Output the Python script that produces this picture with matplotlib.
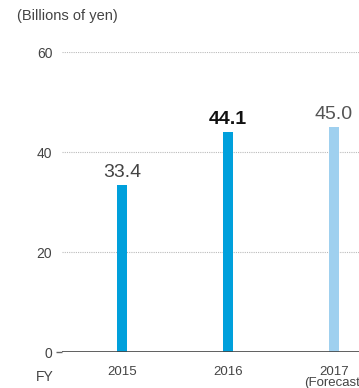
import matplotlib
matplotlib.use("Agg")
import matplotlib.pyplot as plt

plt.rcParams['font.family'] = ['Liberation Sans', 'DejaVu Sans']

years = ["2015", "2016", "2017\n(Forecast)"]
values = [33.4, 44.1, 45.0]
value_labels = ["33.4", "44.1", "45.0"]
bar_colors = ["#00a0dc", "#00a0dc", "#9fd0ef"]
label_weights = ["normal", "bold", "normal"]
label_colors = ["#444444", "#111111", "#555555"]
yticks = [0, 20, 40, 60]

W, H = 359, 388
fig = plt.figure(figsize=(W / 100, H / 100), dpi=100)
ax_left, ax_right = 62 / W, 1.0
ax_bottom, ax_top = 1 - 352 / H, 1 - 52 / H
ax = fig.add_axes([ax_left, ax_bottom, ax_right - ax_left, ax_top - ax_bottom])

x = list(range(len(years)))
ax.bar(x, values, width=10 / 106, color=bar_colors, zorder=3)

ax.set_xlim(-60 / 106, 2 + 25 / 106)
ax.set_ylim(0, 60)

for xi, v, t, w, c in zip(x, values, value_labels, label_weights, label_colors):
    ax.text(xi, v + 0.8, t, ha="center", va="bottom", fontsize=14,
            fontweight=w, color=c, clip_on=False)

for s in ax.spines.values():
    s.set_visible(False)
ax.axhline(0, color="#444444", lw=1.2, zorder=4)
for yv in yticks[1:]:
    ax.axhline(yv, color="#bbbbbb", lw=0.8, ls=(0, (1, 1)), zorder=1)

ax.set_yticks(yticks)
ax.set_yticklabels([str(v) for v in yticks], fontsize=10, color="#444444")
ax.tick_params(axis="y", length=4, width=1, color="#666666", pad=3)
ax.set_xticks(x)
ax.set_xticklabels(years, fontsize=9.5, color="#444444", linespacing=0.85)
ax.tick_params(axis="x", length=0, pad=10)
# only the zero tick carries a mark
for i, tl in enumerate(ax.yaxis.get_major_ticks()):
    if i > 0:
        tl.tick1line.set_visible(False)

fig.text(17 / W, 1 - 16 / H, "(Billions of yen)", fontsize=10.5, color="#444444",
         ha="left", va="center")
fig.text(45 / W, 1 - 377 / H, "FY", fontsize=10, color="#444444",
         ha="center", va="center")

fig.savefig("out.png", dpi=100)
